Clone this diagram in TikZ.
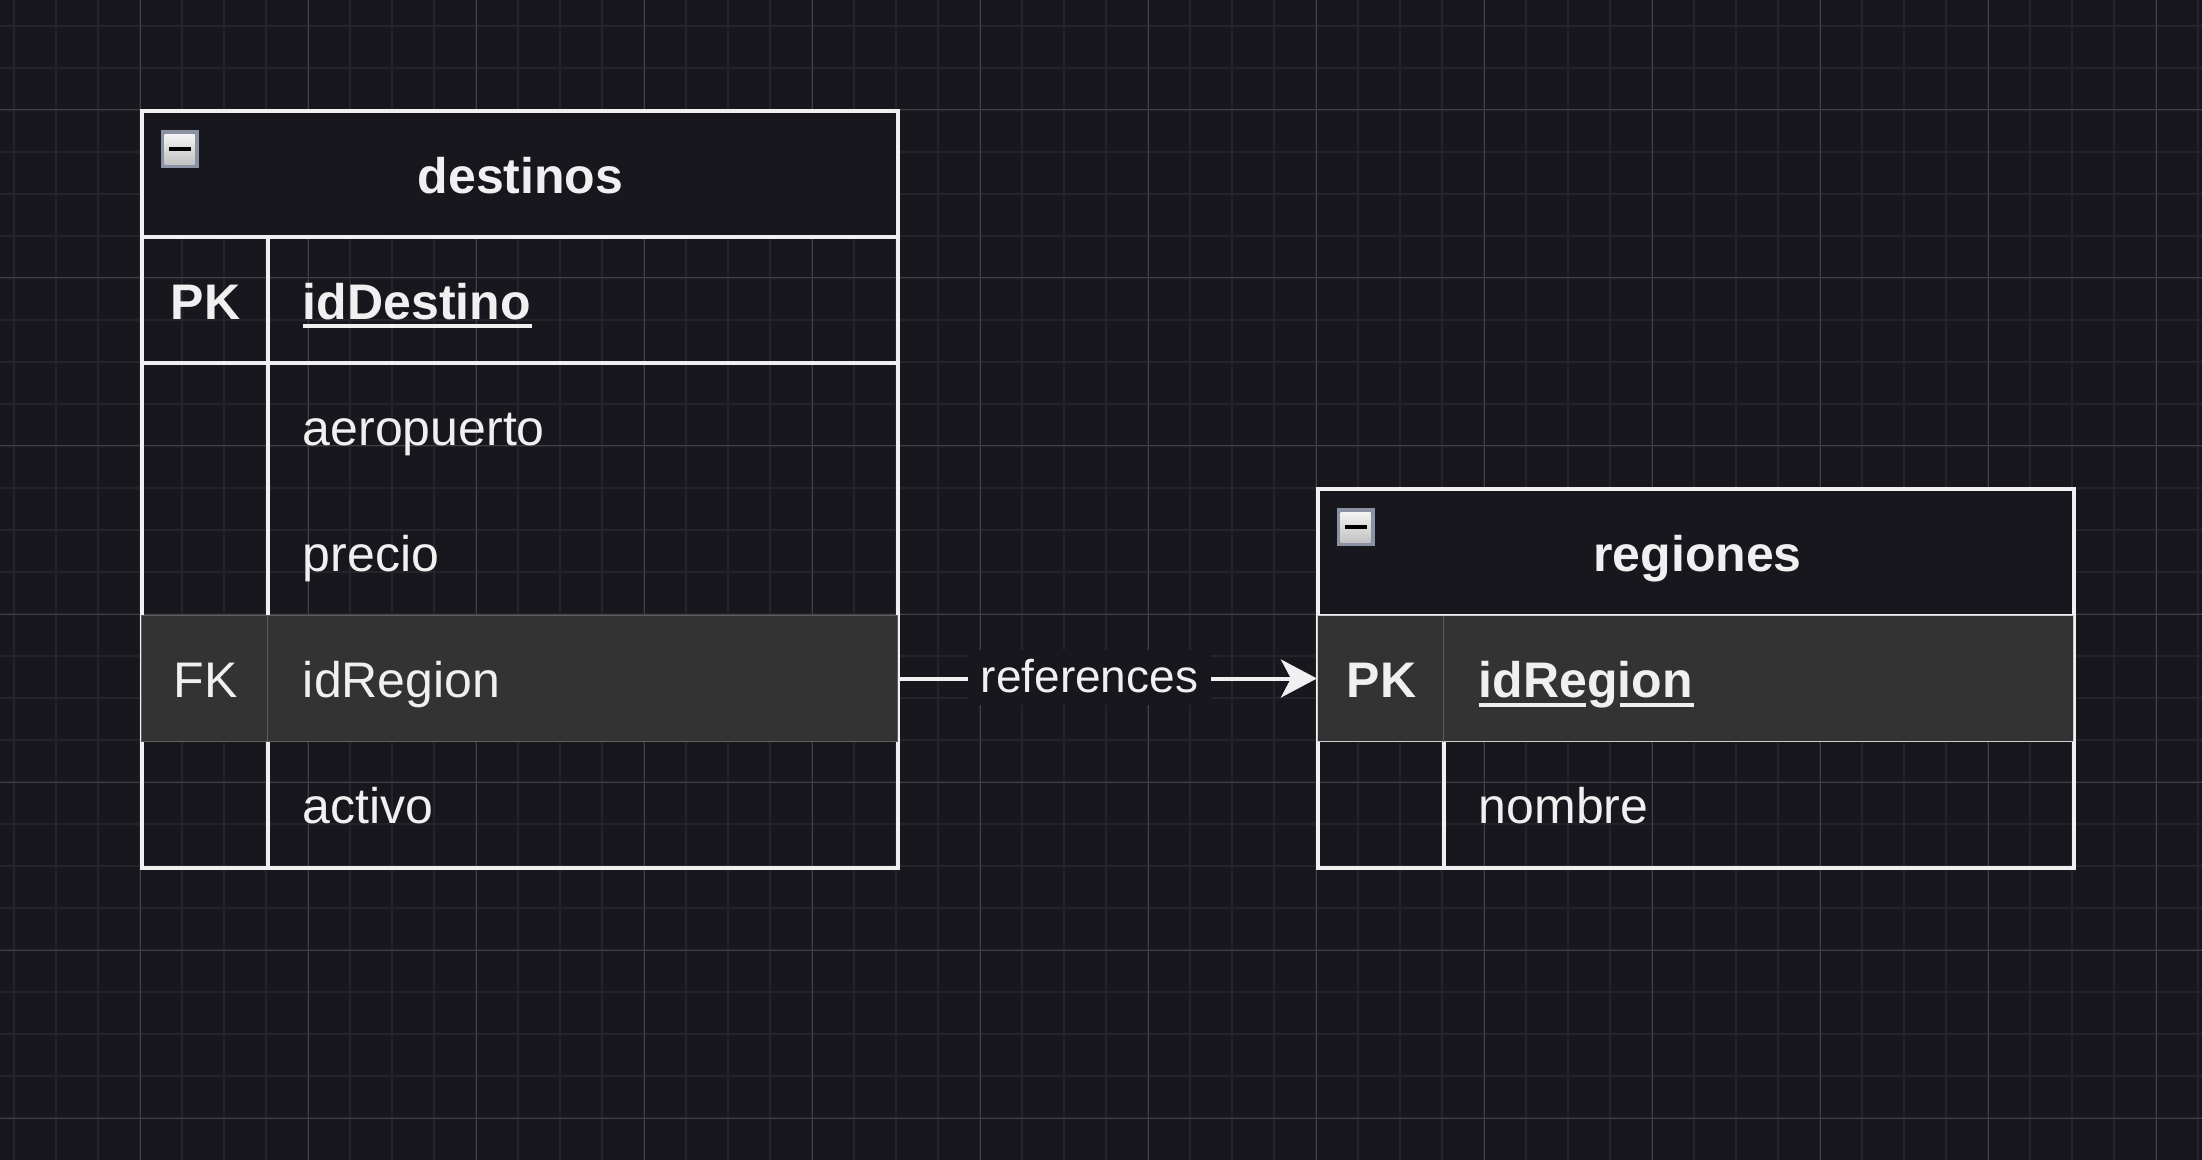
\documentclass[tikz,border=0pt]{standalone}
\usepackage{fontspec}
\setmainfont{Liberation Sans}
\usetikzlibrary{arrows.meta}
\definecolor{bg}{RGB}{25,23,30}
\definecolor{gridminor}{RGB}{37,36,42}
\definecolor{gridmajor}{RGB}{64,63,69}
\definecolor{ink}{RGB}{240,240,240}
\definecolor{hl}{RGB}{51,51,51}
\definecolor{hlline}{RGB}{95,95,95}
\definecolor{iconframe}{RGB}{138,146,163}
\tikzset{
  minorline/.style={draw=gridminor, line width=1pt},
  majorline/.style={draw=gridmajor, line width=0.5pt},
  tablebox/.style={draw=ink, line width=2pt, minimum width=378pt, inner sep=0pt},
  headbox/.style={draw=ink, fill=bg, line width=2pt, minimum width=378pt, minimum height=63pt, inner sep=0pt},
  tline/.style={draw=ink, line width=2pt},
  hlrow/.style={fill=hl, line width=0.6pt, minimum width=378pt, minimum height=63pt, inner sep=0pt},
  hldiv/.style={draw=hlline, line width=0.6pt},
  txt/.style={text=ink, inner sep=0pt, font=\fontsize{25}{30}\selectfont},
  btxt/.style={txt, font=\fontsize{25}{30}\selectfont\bfseries},
  uline/.style={draw=ink, line width=2pt},
  refarrow/.style={draw=ink, line width=2pt, -{Stealth[length=18pt, width=19pt, inset=5pt]}},
  reflabel/.style={fill=bg, text=ink, font=\fontsize{23}{28}\selectfont, inner xsep=6.5pt, inner ysep=0pt, text height=21.5pt, text depth=6pt},
}
\begin{document}
\begin{tikzpicture}[x=0.5pt, y=-0.5pt]
\useasboundingbox (0,0) rectangle (2202,1160);
\fill[bg] (0,0) rectangle (2202,1160);
% grid
\foreach \i in {0,...,52} \draw[minorline] ({14+42*\i},0) -- ({14+42*\i},1160);
\foreach \j in {0,...,26} \draw[minorline] (0,{26+42*\j}) -- (2202,{26+42*\j});
\foreach \x in {140,308,...,2156} \draw[majorline] (\x,0) -- (\x,1160);
\foreach \y in {110,278,...,1118} \draw[majorline] (0,\y) -- (2202,\y);

\begin{scope}[shift={(1.5,1.5)}]
% ---------- table destinos ----------
\node[tablebox, minimum height=378pt] (dtab) at (518,488) {};
\node[headbox] (dhead) at (518,173) {};
\draw[tline] (140,362) -- (896,362);
\draw[tline] (266,236) -- (266,866);
\node[hlrow, draw=hlline] (dfk) at (518,677) {};
\draw[hldiv] (266,614) -- (266,740);
% icon
\fill[iconframe] (159,129) rectangle (197,167);
\shade[top color=white!95!black, bottom color=white!76!black] (163,133) rectangle (193,163);
\fill[black] (167,146) rectangle (189,150);
% texts
\node[btxt, anchor=base] (dtitle) at (519,192) {destinos};
\node[btxt, anchor=base] (dpk) at (204,318) {PK};
\node[btxt, anchor=base west] (dpkf) at (301,318) {idDestino};
\draw[uline] (301,325) -- (530,325);
\node[txt, anchor=base west] (daero) at (301,444) {aeropuerto};
\node[txt, anchor=base west] (dprecio) at (301,570) {precio};
\node[txt, anchor=base] (dfklab) at (204,696) {FK};
\node[txt, anchor=base west] (dfkf) at (301,696) {idRegion};
\node[txt, anchor=base west] (dactivo) at (301,822) {activo};

% ---------- table regiones ----------
\node[tablebox, minimum height=189pt] (rtab) at (1694,677) {};
\node[headbox] (rhead) at (1694,551) {};
\draw[tline] (1442,614) -- (1442,866);
\node[hlrow, draw=ink!85!black] (rpk) at (1694,677) {};
\draw[hldiv] (1442,614) -- (1442,740);
% icon
\fill[iconframe] (1335,507) rectangle (1373,545);
\shade[top color=white!95!black, bottom color=white!76!black] (1339,511) rectangle (1369,541);
\fill[black] (1343,524) rectangle (1365,528);
% texts
\node[btxt, anchor=base] (rtitle) at (1696,570) {regiones};
\node[btxt, anchor=base] (rpklab) at (1380,696) {PK};
\node[btxt, anchor=base west] (rpkf) at (1477,696) {idRegion};
\draw[uline] (1477,703) -- (1584,703);
\draw[uline] (1618,703) -- (1692,703);
\node[txt, anchor=base west] (rnombre) at (1477,822) {nombre};

% ---------- connector ----------
\draw[refarrow] (dfk.east) -- node[reflabel, pos=0.457, anchor=base, yshift=-7pt] (reflab) {references} (rpk.west);
\end{scope}
\end{tikzpicture}
\end{document}
